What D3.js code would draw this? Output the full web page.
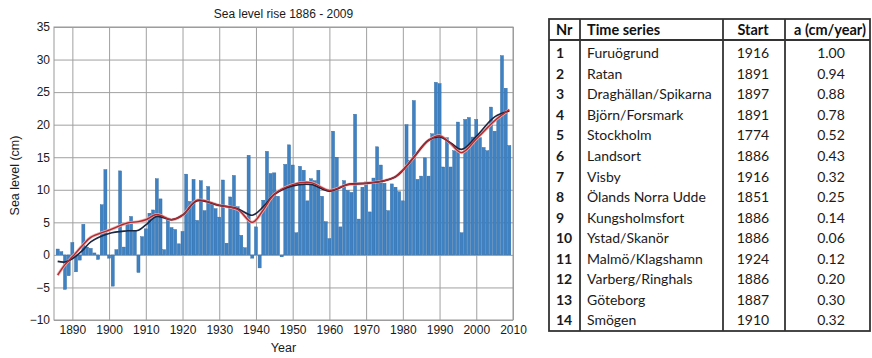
<!DOCTYPE html>
<html>
<head>
<meta charset="utf-8">
<script src="https://cdn.jsdelivr.net/npm/d3@7"></script>
<style>
  body { margin: 0; background: #fff; }
  svg { display: block; }
</style>
</head>
<body>
<div id="chart"></div>
<script>
// annual sea level (cm), 1886..2009
const firstYear = 1886;
const seaLevel = [
  0.9, 0.5, -5.3, -3.2, 1.9, -2.6, -0.8, 4.7, 1.2, 1.0,          // 1886-1895
  0.3, -0.7, 7.7, 13.1, -0.5, -4.8, 0.8, 12.9, 1.2, 4.8,         // 1896-1905
  5.9, 3.7, -2.7, 2.8, 4.0, 6.4, 6.9, 11.7, 8.6, 0.8,            // 1906-1915
  5.3, 4.2, 3.9, 1.7, 3.6, 12.4, 8.2, 11.6, 5.3, 11.4,           // 1916-1925
  6.8, 10.5, 8.0, 7.1, 5.8, 11.5, 1.8, 8.9, 12.2, 7.4,           // 1926-1935
  3.0, 1.1, 15.3, -0.5, 4.3, -2.0, 8.4, 15.9, 12.5, 12.6,        // 1936-1945
  9.0, -0.3, 13.9, 16.9, 13.8, 3.4, 13.6, 13.0, 8.3, 11.7,       // 1946-1955
  11.4, 13.0, 9.0, 5.1, 2.5, 19.0, 15.0, 4.3, 11.4, 9.9,         // 1956-1965
  9.6, 21.6, 5.5, 10.4, 11.2, 6.6, 11.8, 16.6, 13.8, 11.0,       // 1966-1975
  6.8, 10.9, 10.4, 9.7, 8.3, 20.0, 14.5, 23.7, 11.6, 12.1,       // 1976-1985
  14.9, 12.1, 18.6, 26.5, 26.3, 13.5, 18.0, 13.5, 16.0, 20.4,    // 1986-1995
  3.4, 20.8, 21.1, 18.1, 20.8, 18.0, 16.5, 16.0, 22.7, 19.0,     // 1996-2005
  21.0, 30.6, 25.6, 16.8                                         // 2006-2009
];

// smoothed trend lines
const trendYears = [1886, 1888, 1890, 1893, 1895, 1900, 1905, 1908, 1910, 1913, 1917, 1920, 1924,
  1930, 1935, 1939, 1942, 1945, 1950, 1955, 1960, 1965, 1970, 1975, 1978, 1980, 1983, 1987,
  1990, 1993, 1996, 2000, 2005, 2009];
const redTrend = [-3.1, -1.5, -0.3, 1.6, 2.7, 3.8, 4.9, 5.1, 5.4, 6.2, 5.4, 6.1, 8.4,
  7.6, 7.0, 5.0, 6.9, 9.3, 10.8, 11.1, 9.9, 10.8, 11.0, 11.4, 12.0, 13.0, 15.0, 17.6,
  18.3, 17.1, 15.7, 17.8, 20.6, 22.3];
const darkTrend = [-1.0, -1.1, -0.6, 0.8, 2.0, 3.3, 3.7, 3.8, 4.6, 5.9, 5.4, 6.1, 8.3,
  7.6, 7.1, 6.1, 7.4, 9.3, 10.6, 10.8, 9.8, 10.8, 11.0, 11.4, 12.0, 13.0, 15.0, 17.6,
  18.1, 17.2, 16.2, 18.2, 21.2, 22.1];

const xTicks = [1890, 1900, 1910, 1920, 1930, 1940, 1950, 1960, 1970, 1980, 1990, 2000, 2010];
const yTicks = [-10, -5, 0, 5, 10, 15, 20, 25, 30, 35];

// table
const tableHeader = ["Nr", "Time series", "Start", "a (cm/year)"];
const stationNr = [1, 2, 3, 4, 5, 6, 7, 8, 9, 10, 11, 12, 13, 14];
const stationName = ["Furuögrund", "Ratan", "Draghällan/Spikarna", "Björn/Forsmark", "Stockholm",
  "Landsort", "Visby", "Ölands Norra Udde", "Kungsholmsfort", "Ystad/Skanör",
  "Malmö/Klagshamn", "Varberg/Ringhals", "Göteborg", "Smögen"];
const stationStart = [1916, 1891, 1897, 1891, 1774, 1886, 1916, 1851, 1886, 1886, 1924, 1886, 1887, 1910];
const stationRate = ["1.00", "0.94", "0.88", "0.78", "0.52", "0.43", "0.32", "0.25", "0.14",
  "0.06", "0.12", "0.20", "0.30", "0.32"];

const width = 872, height = 358;
const plot = {left: 54, right: 513, top: 27, bottom: 320};
const font = "'Liberation Sans', Arial, sans-serif";

const svg = d3.select("#chart").append("svg")
    .attr("width", width)
    .attr("height", height)
    .attr("viewBox", [0, 0, width, height]);

const x = d3.scaleLinear().domain([1885, 2010]).range([plot.left, plot.right]);
const y = d3.scaleLinear().domain([-10, 35]).range([plot.bottom, plot.top]);

const data = seaLevel.map((v, i) => ({year: firstYear + i, value: v}));

// grid
svg.append("g")
    .attr("transform", `translate(0,${plot.bottom})`)
    .call(d3.axisBottom(x).tickValues(xTicks).tickSize(-(plot.bottom - plot.top)).tickFormat(""))
    .call(g => g.select(".domain").remove())
    .call(g => g.selectAll(".tick line").attr("stroke", "#a0a0a0"));

svg.append("g")
    .attr("transform", `translate(${plot.left},0)`)
    .call(d3.axisLeft(y).tickValues(yTicks).tickSize(-(plot.right - plot.left)).tickFormat(""))
    .call(g => g.select(".domain").remove())
    .call(g => g.selectAll(".tick line").attr("stroke", "#a0a0a0"));

svg.append("rect")
    .attr("x", plot.left)
    .attr("y", plot.top)
    .attr("width", plot.right - plot.left)
    .attr("height", plot.bottom - plot.top)
    .attr("fill", "none")
    .attr("stroke", "#999");

// bars
const bw = (x(1) - x(0)) * 0.84;
svg.append("g")
  .selectAll("rect")
  .data(data)
  .join("rect")
    .attr("x", d => x(d.year) - bw / 2)
    .attr("y", d => y(Math.max(0, d.value)))
    .attr("width", bw)
    .attr("height", d => Math.abs(y(d.value) - y(0)))
    .attr("fill", "#3f82c3")
    .attr("stroke", "#2d659c")
    .attr("stroke-width", 0.4);

// trend lines
const line = d3.line()
    .x((d, i) => x(trendYears[i]))
    .y(d => y(d))
    .curve(d3.curveCatmullRom);

svg.append("path")
    .datum(redTrend)
    .attr("fill", "none")
    .attr("stroke", "#e8b0b0")
    .attr("stroke-width", 3)
    .attr("d", line);

svg.append("path")
    .datum(darkTrend)
    .attr("fill", "none")
    .attr("stroke", "#1b2640")
    .attr("stroke-width", 1.6)
    .attr("d", line);

svg.append("path")
    .datum(redTrend)
    .attr("fill", "none")
    .attr("stroke", "#b3282d")
    .attr("stroke-width", 1.4)
    .attr("d", line);

// axis labels
svg.append("g")
    .attr("transform", `translate(0,${plot.bottom})`)
    .call(d3.axisBottom(x).tickValues(xTicks).tickSize(0).tickPadding(5).tickFormat(d3.format("d")))
    .call(g => g.select(".domain").remove())
    .call(g => g.selectAll("text").attr("font-family", font).attr("font-size", 12).attr("fill", "#1a1a1a"));

svg.append("g")
    .attr("transform", `translate(${plot.left},0)`)
    .call(d3.axisLeft(y).tickValues(yTicks).tickSize(0).tickPadding(4))
    .call(g => g.select(".domain").remove())
    .call(g => g.selectAll("text").attr("font-family", font).attr("font-size", 12).attr("fill", "#1a1a1a"));

svg.append("text")
    .attr("x", (plot.left + plot.right) / 2)
    .attr("y", 18)
    .attr("text-anchor", "middle")
    .attr("font-family", font)
    .attr("font-size", 12)
    .attr("fill", "#1a1a1a")
    .text("Sea level rise 1886 - 2009");

svg.append("text")
    .attr("x", (plot.left + plot.right) / 2)
    .attr("y", 352)
    .attr("text-anchor", "middle")
    .attr("font-family", font)
    .attr("font-size", 12.5)
    .attr("fill", "#1a1a1a")
    .text("Year");

svg.append("text")
    .attr("transform", `translate(19,${(plot.top + plot.bottom) / 2 + 2}) rotate(-90)`)
    .attr("text-anchor", "middle")
    .attr("font-family", font)
    .attr("font-size", 12.5)
    .attr("fill", "#1a1a1a")
    .text("Sea level (cm)");

// table
const tfont = "Lato, 'Open Sans', sans-serif";
const tbl = {left: 549, right: 870, top: 19, headBottom: 40, bottom: 331};
const colLines = [580, 723, 785];
const rowY = d3.scaleLinear().domain([0, 13]).range([53.3, 320.5]);

const t = svg.append("g");
t.append("rect")
    .attr("x", tbl.left)
    .attr("y", tbl.top)
    .attr("width", tbl.right - tbl.left)
    .attr("height", tbl.bottom - tbl.top)
    .attr("fill", "none")
    .attr("stroke", "#333")
    .attr("stroke-width", 1.8);
t.selectAll("line.col")
  .data(colLines)
  .join("line")
    .attr("x1", d => d).attr("x2", d => d)
    .attr("y1", tbl.top).attr("y2", tbl.bottom)
    .attr("stroke", "#333")
    .attr("stroke-width", 1.8);
t.append("line")
    .attr("x1", tbl.left).attr("x2", tbl.right)
    .attr("y1", tbl.headBottom).attr("y2", tbl.headBottom)
    .attr("stroke", "#333")
    .attr("stroke-width", 1.8);

const headPos = [{x: 556, a: "start"}, {x: 587, a: "start"}, {x: 753, a: "middle"}, {x: 830, a: "middle"}];
t.selectAll("text.head")
  .data(tableHeader)
  .join("text")
    .attr("x", (d, i) => headPos[i].x)
    .attr("y", 30)
    .attr("dy", "0.35em")
    .attr("text-anchor", (d, i) => headPos[i].a)
    .attr("font-family", tfont)
    .attr("font-size", 14.5)
    .attr("font-weight", "bold")
    .attr("fill", "#111")
    .text(d => d);

const rows = t.selectAll("g.row")
  .data(stationNr)
  .join("g")
    .attr("transform", (d, i) => `translate(0,${rowY(i)})`)
    .attr("font-family", tfont)
    .attr("font-size", 14)
    .attr("fill", "#1a1a1a");

rows.append("text").attr("x", 556).attr("dy", "0.35em").attr("font-weight", "bold").text(d => d);
rows.append("text").attr("x", 587).attr("dy", "0.35em").text((d, i) => stationName[i]);
rows.append("text").attr("x", 753).attr("dy", "0.35em").attr("text-anchor", "middle").text((d, i) => stationStart[i]);
rows.append("text").attr("x", 831).attr("dy", "0.35em").attr("text-anchor", "middle").text((d, i) => stationRate[i]);
</script>
</body>
</html>
